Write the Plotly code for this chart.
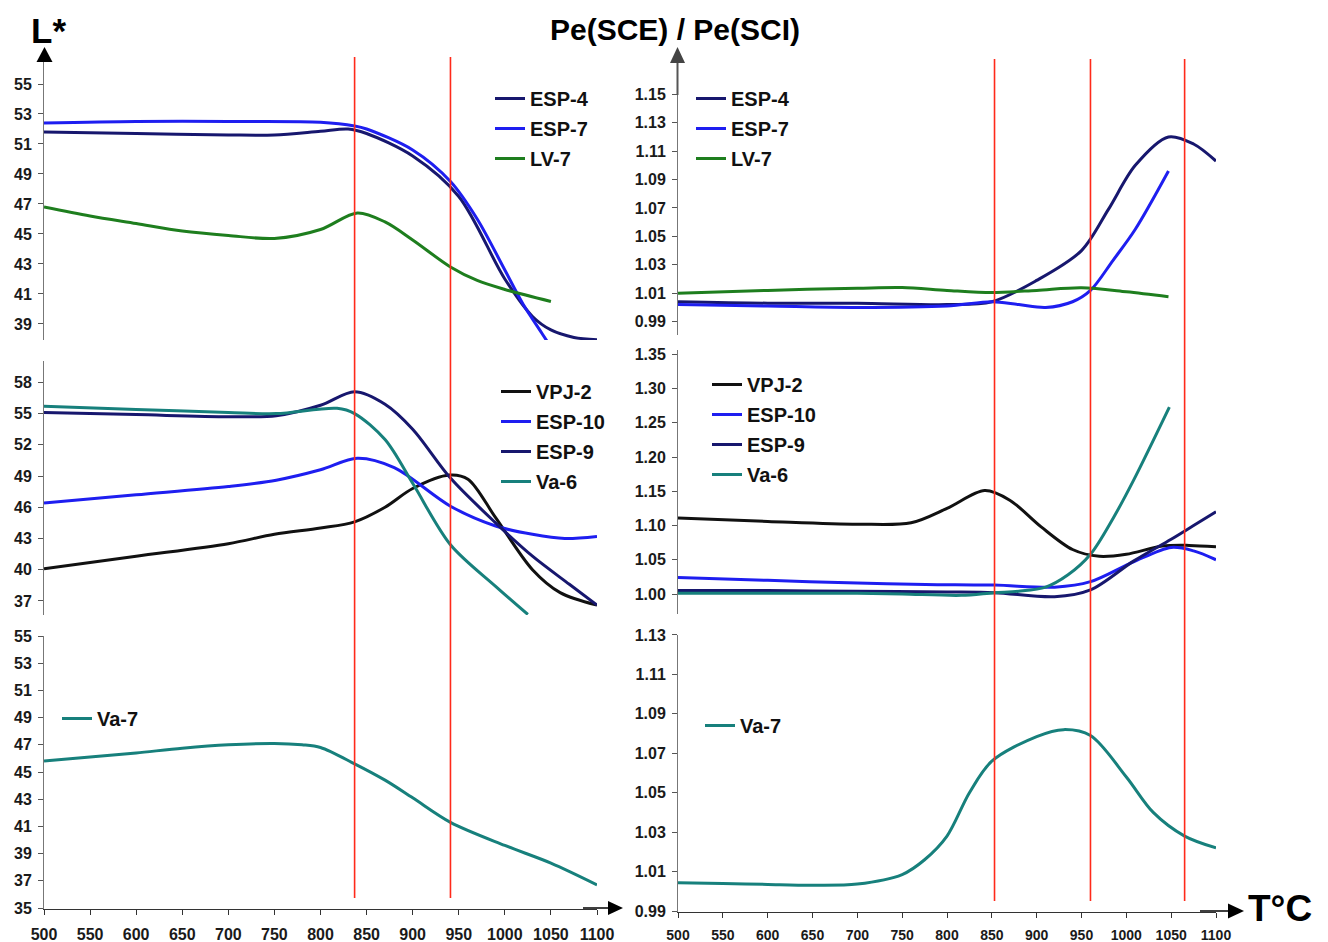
import plotly.graph_objects as go

# page geometry: the browser body adds an 8px margin, so the figure is drawn 8px in
PAGE_W, PAGE_H = 1328, 942
OFF = 8
W, H = PAGE_W - OFF, PAGE_H - OFF

# ---------------- data ----------------
# Top-left: L*
tl_T_esp4 = [500, 600, 700, 750, 800, 830, 850, 900, 950, 1000, 1030, 1050, 1075, 1100]
tl_esp4 = [51.8, 51.7, 51.6, 51.6, 51.85, 52.0, 51.7, 50.2, 47.5, 42.0, 39.5, 38.6, 38.1, 37.95]
tl_T_esp7 = [500, 600, 700, 800, 837, 850, 900, 941, 970, 1000, 1020, 1040, 1060]
tl_esp7 = [52.4, 52.5, 52.5, 52.45, 52.2, 52.0, 50.6, 48.5, 46.0, 42.6, 40.3, 38.4, 36.5]
tl_T_lv7 = [500, 550, 600, 650, 700, 750, 800, 840, 870, 900, 941, 970, 1000, 1050]
tl_lv7 = [46.8, 46.2, 45.7, 45.2, 44.9, 44.7, 45.3, 46.4, 45.8, 44.6, 42.8, 41.9, 41.3, 40.5]

# Top-right: Pe(SCE)/Pe(SCI)
tr_T_esp4 = [500, 600, 700, 800, 850, 900, 950, 980, 1010, 1047, 1075, 1100]
tr_esp4 = [1.004, 1.003, 1.003, 1.002, 1.004, 1.019, 1.040, 1.069, 1.100, 1.120, 1.115, 1.103]
tr_T_esp7 = [500, 600, 700, 800, 850, 880, 910, 940, 960, 985, 1010, 1047]
tr_esp7 = [1.002, 1.001, 1.000, 1.001, 1.004, 1.002, 1.000, 1.004, 1.012, 1.033, 1.055, 1.096]
tr_T_lv7 = [500, 600, 700, 750, 800, 850, 900, 950, 1000, 1047]
tr_lv7 = [1.010, 1.012, 1.0135, 1.014, 1.012, 1.0105, 1.012, 1.0138, 1.011, 1.0075]

# Middle-left: L*
ml_T_vpj2 = [500, 600, 700, 750, 800, 837, 870, 900, 940, 960, 990, 1030, 1060, 1100]
ml_vpj2 = [40.1, 41.3, 42.5, 43.4, 44.0, 44.6, 46.0, 47.8, 49.1, 48.7, 45.0, 40.0, 37.8, 36.6]
ml_T_esp10 = [500, 600, 700, 752, 800, 840, 880, 941, 990, 1030, 1065, 1100]
ml_esp10 = [46.4, 47.2, 48.0, 48.6, 49.6, 50.7, 49.8, 46.1, 44.2, 43.4, 43.0, 43.2]
ml_T_esp9 = [500, 600, 700, 752, 800, 837, 870, 900, 941, 990, 1030, 1070, 1100]
ml_esp9 = [55.1, 54.9, 54.7, 54.8, 55.8, 57.1, 55.9, 53.5, 48.8, 44.5, 41.3, 38.6, 36.6]
ml_T_va6 = [500, 600, 700, 752, 818, 837, 870, 900, 941, 990, 1025]
ml_va6 = [55.7, 55.4, 55.1, 55.0, 55.5, 55.0, 52.5, 48.3, 42.4, 38.4, 35.7]

# Middle-right: Pe(SCE)/Pe(SCI)
mr_T_vpj2 = [500, 600, 700, 760, 800, 842, 870, 905, 940, 970, 1000, 1040, 1070, 1100]
mr_vpj2 = [1.111, 1.106, 1.102, 1.104, 1.125, 1.151, 1.137, 1.098, 1.065, 1.055, 1.058, 1.070, 1.071, 1.069]
mr_T_esp10 = [500, 600, 700, 776, 853, 920, 960, 1008, 1050, 1075, 1100]
mr_esp10 = [1.024, 1.020, 1.016, 1.014, 1.013, 1.010, 1.018, 1.047, 1.068, 1.063, 1.050]
mr_T_esp9 = [500, 600, 700, 800, 853, 920, 960, 1008, 1050, 1075, 1100]
mr_esp9 = [1.005, 1.005, 1.004, 1.003, 1.002, 0.996, 1.006, 1.048, 1.080, 1.100, 1.120]
mr_T_va6 = [500, 600, 700, 750, 816, 853, 880, 910, 935, 960, 985, 1008, 1048]
mr_va6 = [1.001, 1.001, 1.001, 1.000, 0.998, 1.002, 1.004, 1.010, 1.028, 1.058, 1.110, 1.166, 1.273]

# Bottom-left: L*
bl_T_va7 = [500, 550, 600, 650, 700, 750, 780, 800, 837, 870, 900, 941, 1000, 1050, 1100]
bl_va7 = [45.8, 46.1, 46.4, 46.75, 47.0, 47.1, 47.0, 46.8, 45.6, 44.4, 43.1, 41.3, 39.6, 38.3, 36.7]

# Bottom-right: Pe(SCE)/Pe(SCI)
br_T_va7 = [500, 550, 600, 650, 700, 750, 775, 800, 825, 850, 900, 930, 960, 1000, 1030, 1065, 1100]
br_va7 = [1.0043, 1.0040, 1.0035, 1.0031, 1.0037, 1.0085, 1.016, 1.028, 1.050, 1.066, 1.0785, 1.082, 1.079, 1.058, 1.040, 1.028, 1.022]

# red reference temperatures
left_marks = [837, 941]
right_marks = [853, 960, 1065]

# ticks
x_ticks = [500, 550, 600, 650, 700, 750, 800, 850, 900, 950, 1000, 1050, 1100]
tl_ticks = [39, 41, 43, 45, 47, 49, 51, 53, 55]
tr_ticks = [0.99, 1.01, 1.03, 1.05, 1.07, 1.09, 1.11, 1.13, 1.15]
ml_ticks = [37, 40, 43, 46, 49, 52, 55, 58]
mr_ticks = [1.00, 1.05, 1.10, 1.15, 1.20, 1.25, 1.30, 1.35]
bl_ticks = [35, 37, 39, 41, 43, 45, 47, 49, 51, 53, 55]
br_ticks = [0.99, 1.01, 1.03, 1.05, 1.07, 1.09, 1.11, 1.13]

# ---------------- styling ----------------
NAVY = "#17176e"
BLUE = "#1e1ef0"
GREEN = "#1e7e1e"
TEAL = "#17807c"
BLACK = "#111111"
FONT = "Liberation Sans, Arial, sans-serif"


def X(px):
    return (px - OFF) / W


def Y(py):
    return 1 - (py - OFF) / H


fig = go.Figure()


def add(xs, ys, name, color, ax, legend, width=3):
    fig.add_trace(go.Scatter(
        x=xs, y=ys, name=name, mode="lines",
        line=dict(color=color, width=width, shape="spline", smoothing=0.9),
        xaxis=ax[0], yaxis=ax[1], legend=legend, legendgroup=legend + name,
        showlegend=True,
    ))


add(tl_T_esp4, tl_esp4, "ESP-4", NAVY, ("x", "y"), "legend")
add(tl_T_esp7, tl_esp7, "ESP-7", BLUE, ("x", "y"), "legend")
add(tl_T_lv7, tl_lv7, "LV-7", GREEN, ("x", "y"), "legend")

add(tr_T_esp4, tr_esp4, "ESP-4", NAVY, ("x2", "y2"), "legend2")
add(tr_T_esp7, tr_esp7, "ESP-7", BLUE, ("x2", "y2"), "legend2")
add(tr_T_lv7, tr_lv7, "LV-7", GREEN, ("x2", "y2"), "legend2")

add(ml_T_vpj2, ml_vpj2, "VPJ-2", BLACK, ("x3", "y3"), "legend3")
add(ml_T_esp10, ml_esp10, "ESP-10", BLUE, ("x3", "y3"), "legend3")
add(ml_T_esp9, ml_esp9, "ESP-9", NAVY, ("x3", "y3"), "legend3")
add(ml_T_va6, ml_va6, "Va-6", TEAL, ("x3", "y3"), "legend3")

add(mr_T_vpj2, mr_vpj2, "VPJ-2", BLACK, ("x4", "y4"), "legend4")
add(mr_T_esp10, mr_esp10, "ESP-10", BLUE, ("x4", "y4"), "legend4")
add(mr_T_esp9, mr_esp9, "ESP-9", NAVY, ("x4", "y4"), "legend4")
add(mr_T_va6, mr_va6, "Va-6", TEAL, ("x4", "y4"), "legend4")

add(bl_T_va7, bl_va7, "Va-7", TEAL, ("x5", "y5"), "legend5")
add(br_T_va7, br_va7, "Va-7", TEAL, ("x6", "y6"), "legend6")

LEFT_DOM = [X(44), X(597)]
RIGHT_DOM = [X(678), X(1216)]

tickfont = dict(family=FONT, size=16, color="#1a1a1a", weight="bold")


def xax(dom, anchor, show, size=16):
    d = dict(domain=dom, anchor=anchor, range=[500, 1100], showgrid=False, zeroline=False,
             fixedrange=True, automargin=False)
    if show:
        d.update(showline=True, linecolor="#333", linewidth=1, ticks="outside", ticklen=5,
                 tickcolor="#333", tickvals=x_ticks, ticktext=[str(v) for v in x_ticks],
                 tickfont=dict(family=FONT, size=size, color="#1a1a1a", weight="bold"),
                 ticklabelstandoff=6)
    else:
        d.update(showline=False, showticklabels=False, ticks="")
    return d


def yax(dom, anchor, rng, vals, fmt):
    return dict(domain=dom, anchor=anchor, range=rng, showgrid=False, zeroline=False,
                showline=True, linecolor="#777", linewidth=1, ticks="outside", ticklen=5,
                tickcolor="#555", tickvals=vals, ticktext=[fmt.format(v) for v in vals],
                tickfont=tickfont, ticklabelstandoff=3, fixedrange=True, automargin=False)


layout = dict(
    width=W, height=H, autosize=False,
    margin=dict(l=0, r=0, t=0, b=0, autoexpand=False),
    paper_bgcolor="white", plot_bgcolor="rgba(0,0,0,0)",
    xaxis=xax(LEFT_DOM, "y", False),
    yaxis=yax([Y(340), Y(60)], "x", [37.93, 56.6], tl_ticks, "{:.0f}"),
    xaxis2=xax(RIGHT_DOM, "y2", False),
    yaxis2=yax([Y(335), Y(93)], "x2", [0.9806, 1.1509], tr_ticks, "{:.2f}"),
    xaxis3=xax(LEFT_DOM, "y3", False),
    yaxis3=yax([Y(615), Y(361)], "x3", [35.65, 60.05], ml_ticks, "{:.0f}"),
    xaxis4=xax(RIGHT_DOM, "y4", False),
    yaxis4=yax([Y(614), Y(350)], "x4", [0.9708, 1.3563], mr_ticks, "{:.2f}"),
    xaxis5=xax(LEFT_DOM, "y5", True, 16),
    yaxis5=yax([Y(908.5), Y(635.5)], "x5", [34.963, 55.037], bl_ticks, "{:.0f}"),
    xaxis6=xax(RIGHT_DOM, "y6", True, 14),
    yaxis6=yax([Y(911.5), Y(634.5)], "x6", [0.98975, 1.13025], br_ticks, "{:.2f}"),
    showlegend=True,
)

legfont = dict(family=FONT, size=20, color="#111", weight="bold")


def leg(px, py):
    return dict(x=X(px), y=Y(py), xanchor="left", yanchor="top", bgcolor="rgba(0,0,0,0)",
                borderwidth=0, font=legfont, tracegroupgap=1, itemwidth=30,
                itemclick=False, itemdoubleclick=False)


layout["legend"] = leg(490, 79)
layout["legend2"] = leg(691, 79)
layout["legend3"] = leg(496, 372)
layout["legend4"] = leg(707, 365)
layout["legend5"] = leg(57, 699)
layout["legend6"] = leg(700, 706)

fig.update_layout(**layout)

# red vertical reference lines
shapes = []
for t in left_marks:
    shapes.append(dict(type="line", xref="x", yref="paper", x0=t, x1=t, y0=Y(898), y1=Y(57),
                       line=dict(color="#ff2a1a", width=1.6)))
for t in right_marks:
    shapes.append(dict(type="line", xref="x2", yref="paper", x0=t, x1=t, y0=Y(901), y1=Y(59),
                       line=dict(color="#ff2a1a", width=1.6)))


def tri_up(cx, tip, base, half, color):
    return dict(type="path", xref="paper", yref="paper",
                path=f"M {X(cx)} {Y(tip)} L {X(cx - half)} {Y(base)} L {X(cx + half)} {Y(base)} Z",
                fillcolor=color, line=dict(color=color, width=0))


def tri_right(cy, tip, base, half, color):
    return dict(type="path", xref="paper", yref="paper",
                path=f"M {X(tip)} {Y(cy)} L {X(base)} {Y(cy - half)} L {X(base)} {Y(cy + half)} Z",
                fillcolor=color, line=dict(color=color, width=0))


def pline(x0, y0, x1, y1, color, width):
    return dict(type="line", xref="paper", yref="paper", x0=X(x0), y0=Y(y0), x1=X(x1), y1=Y(y1),
                line=dict(color=color, width=width))


# axis arrows
shapes.append(pline(44, 62, 44, 60, "#777", 1))
shapes.append(tri_up(44.5, 47, 62, 8, "black"))
shapes.append(pline(677.5, 62, 677.5, 95, "#555", 2))
shapes.append(tri_up(677.5, 47, 63, 7.5, "#444"))
shapes.append(pline(583, 908, 610, 908, "black", 1.5))
shapes.append(tri_right(908, 623, 608, 7, "black"))
shapes.append(pline(1200, 911, 1230, 911, "black", 1.5))
shapes.append(tri_right(911, 1244, 1228, 7.5, "black"))

fig.update_layout(shapes=shapes)


def label(text, px, py, size, yanchor="middle"):
    return dict(text=text, x=X(px), y=Y(py), xref="paper", yref="paper", showarrow=False,
                xanchor="center", yanchor=yanchor,
                font=dict(family=FONT, size=size, color="black", weight="bold"))


annotations = [
    label("L*", 48, 8.5, 35, "top"),
    label("Pe(SCE) / Pe(SCI)", 675, 30, 30),
    label("T°C", 1280, 908, 37),
]
fig.update_layout(annotations=annotations)

fig.write_html("out.html", config={"displayModeBar": False})
